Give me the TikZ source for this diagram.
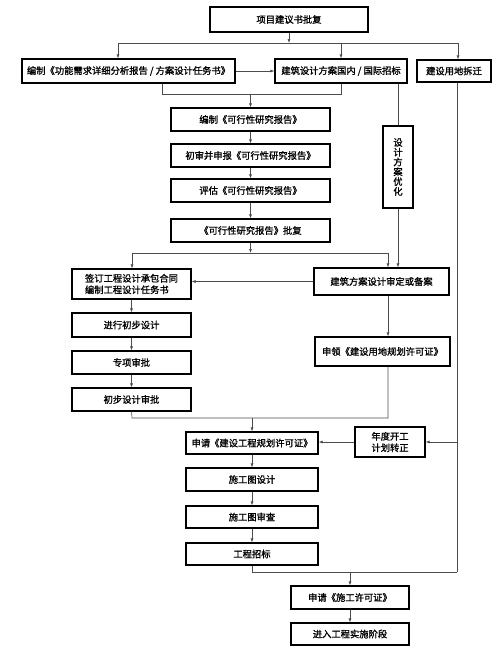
\documentclass[tikz,border=0pt]{standalone}
\usepackage{fontspec}
\newfontfamily\cjk[FakeBold=1.2]{Noto Sans CJK SC}
\usetikzlibrary{arrows.meta}
\begin{document}
\begin{tikzpicture}[x=1pt,y=-1pt,
  box/.style 2 args={draw=black,line width=1.1pt,minimum width=#1pt,minimum height=#2pt,inner sep=1pt,
    font=\cjk\fontsize{9.3}{11.5}\selectfont,align=center},
  conn/.style={draw=black!70,line width=0.6pt},
  arr/.style={conn,-{Latex[length=4pt,width=3pt]}}]
\useasboundingbox (0,0) rectangle (502,654);
% nodes
\node[box={158}{25}] (A) at (289,19.5) {项目建议书批复};
\node[box={213}{24}] (B) at (128.5,71) {编制《功能需求详细分析报告 / 方案设计任务书》};
\node[box={132}{24}] (C) at (341,71) {建筑设计方案国内 / 国际招标};
\node[box={74}{22}] (D) at (454,71) {建设用地拆迁};
\node[box={159}{23}] (E) at (250.5,119.5) {编制《可行性研究报告》};
\node[box={159}{23}] (F) at (250.5,155.5) {初审并申报《可行性研究报告》};
\node[box={159}{23}] (G) at (250.5,190.5) {评估《可行性研究报告》};
\node[box={159}{23}] (H) at (250.5,230.5) {《可行性研究报告》批复};
\node[box={30}{82},font=\cjk\fontsize{9.3}{9.8}\selectfont] (I) at (398,167) {设\\计\\方\\案\\优\\化};
\node[box={119}{30},align=left] (J) at (131.5,284) {签订工程设计承包合同\\编制工程设计任务书};
\node[box={135}{27}] (K) at (381.5,281.5) {建筑方案设计审定或备案};
\node[box={119}{24}] (L) at (131.5,325) {进行初步设计};
\node[box={119}{23}] (M) at (131.5,362.5) {专项审批};
\node[box={119}{23}] (N) at (131.5,399.5) {初步设计审批};
\node[box={135}{29}] (O) at (382.5,351.5) {申领《建设用地规划许可证》};
\node[box={132}{22}] (P) at (252,443) {申请《建设工程规划许可证》};
\node[box={70}{30}] (Q) at (390,442) {年度开工\\计划转正};
\node[box={132}{23}] (R) at (252,479.5) {施工图设计};
\node[box={132}{22}] (S) at (252,517) {施工图审查};
\node[box={132}{22}] (T) at (252,554) {工程招标};
\node[box={118}{23}] (U) at (350,597.5) {申请《施工许可证》};
\node[box={118}{22}] (V) at (350,634) {进入工程实施阶段};
% junction coordinates
\coordinate (h1L) at (118,43);
\coordinate (h1R) at (458,43);
\coordinate (m1) at (162,94);
\coordinate (m2L) at (132,253);
\coordinate (m2R) at (388,253);
\coordinate (m3) at (132,418);
\coordinate (ko) at (388,0);
\coordinate (rb) at (457,572);
% connectors
\draw[conn] (h1L) -- (h1R);
\draw[arr] (A) -- (A |- h1L);
\draw[arr] (h1L) -- (h1L |- B.north);
\draw[arr] (C.north |- h1L) -- (C.north);
\draw[arr] (h1R) -- (h1R |- D.north);
\draw[arr] (B) -- (C);
\draw[conn] (B.south -| m1) -- (m1) -| (C.south);
\draw[arr] (E.north |- m1) -- (E.north);
\draw[arr] (E) -- (F);
\draw[arr] (F) -- (G);
\draw[arr] (G) -- (H);
\draw[conn] (C.south -| I) -- (I.north);
\draw[arr] (I.south) -- (I.south |- K.north);
\draw[arr] (H) -- (H |- m2L);
\draw[conn] (m2L) -- (m2R);
\draw[arr] (m2L) -- (m2L |- J.north);
\draw[arr] (m2R) -- (m2R |- K.north);
\draw[arr] (K.west) -- (J.east |- K.west);
\draw[arr] (J) -- (L);
\draw[arr] (L) -- (M);
\draw[arr] (M) -- (N);
\draw[arr] (K.south -| ko) -- (O.north -| ko);
\draw[conn] (N.south) -- (m3) -| (O.south -| ko);
\draw[arr] (P.north |- m3) -- (P.north);
\draw[conn] (D.south -| rb) -- (rb);
\draw[arr] (Q.east -| rb) -- (Q.east);
\draw[arr] (Q.west) -- (P.east |- Q.west);
\draw[arr] (P) -- (R);
\draw[arr] (R) -- (S);
\draw[arr] (S) -- (T);
\draw[conn] (T.south) -- (T.south |- rb) -- (rb);
\draw[arr] (U.north |- rb) -- (U.north);
\draw[arr] (U) -- (V);
\end{tikzpicture}
\end{document}
